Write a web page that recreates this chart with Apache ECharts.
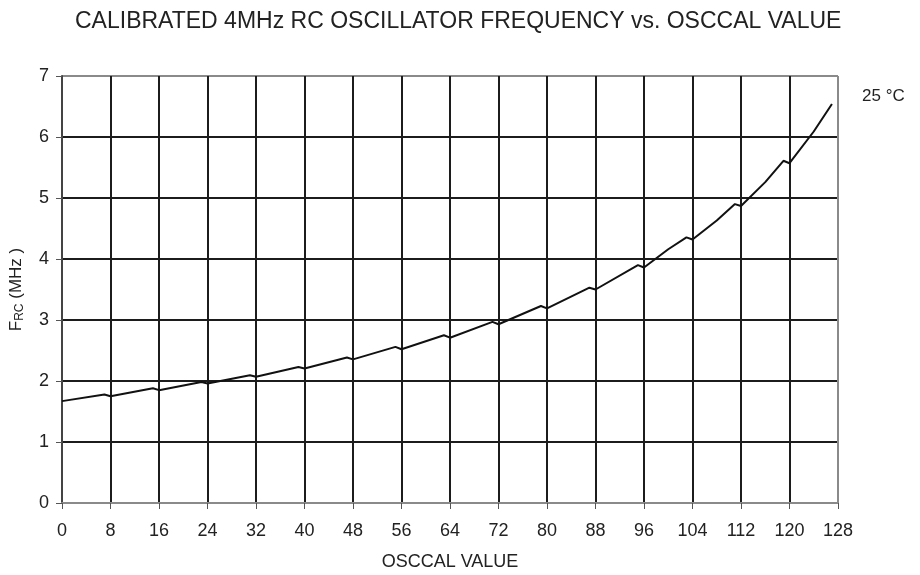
<!DOCTYPE html>
<html><head><meta charset="utf-8">
<script src="https://cdn.jsdelivr.net/npm/echarts@6/dist/echarts.min.js"></script>
<style>html,body{margin:0;padding:0;background:#fff}#c{width:920px;height:575px}</style>
</head><body><div id="c"></div>
<script>
const osccal = [0, 7, 8, 15, 16, 23, 24, 31, 32, 39, 40, 47, 48, 55, 56, 63, 64, 71, 72, 79, 80, 87, 88, 95, 96, 100, 103, 104, 108, 111, 112, 116, 119, 120, 124, 127];
const freqMHz = [1.67, 1.78, 1.75, 1.88, 1.85, 1.985, 1.96, 2.095, 2.07, 2.23, 2.205, 2.385, 2.355, 2.56, 2.52, 2.75, 2.71, 2.97, 2.93, 3.23, 3.19, 3.53, 3.50, 3.90, 3.86, 4.16, 4.355, 4.32, 4.63, 4.90, 4.87, 5.26, 5.61, 5.57, 6.09, 6.54];
const xTicks = [0, 8, 16, 24, 32, 40, 48, 56, 64, 72, 80, 88, 96, 104, 112, 120, 128];
const yTicks = [0, 1, 2, 3, 4, 5, 6, 7];
const titleText = 'CALIBRATED 4MHz RC OSCILLATOR FREQUENCY vs. OSCCAL VALUE';
const tempLabel = '25 °C';

const font = 'Liberation Sans, Arial, sans-serif';
const dark = '#1c1c1c', gray = '#8a8a8a';
const xColors = xTicks.map((t, i) => i === xTicks.length - 1 ? gray : dark);
const yColors = yTicks.map((t, i) => (i === 0 || i === yTicks.length - 1) ? gray : dark);

const chart = echarts.init(document.getElementById('c'), null, {renderer: 'canvas'});
chart.setOption({
  animation: false,
  backgroundColor: '#fff',
  title: {
    text: titleText, left: 70, top: 5,
    textStyle: {fontFamily: font, fontSize: 23, fontWeight: 'normal', color: '#222'}
  },
  grid: {left: 62, right: 82, top: 76, bottom: 72, outerBoundsMode: 'none', containLabel: false},
  xAxis: {
    type: 'value', min: xTicks[0], max: xTicks[xTicks.length - 1], interval: 8,
    name: 'OSCCAL VALUE', nameLocation: 'middle', nameGap: 50,
    nameTextStyle: {fontFamily: font, fontSize: 18, color: '#222'},
    axisLine: {show: true, lineStyle: {color: gray, width: 2}},
    axisTick: {show: true, inside: false, length: 6, lineStyle: {color: '#555', width: 1}},
    axisLabel: {fontFamily: font, fontSize: 18, color: '#222', margin: 19},
    splitLine: {show: true, lineStyle: {color: xColors, width: 2}}
  },
  yAxis: {
    type: 'value', min: yTicks[0], max: yTicks[yTicks.length - 1], interval: 1,
    name: '{f|F}{s|RC}{f| (MHz )}', nameLocation: 'middle', nameGap: 36, nameRotate: 90,
    nameTextStyle: {rich: {
      f: {fontFamily: font, fontSize: 17, color: '#222'},
      s: {fontFamily: font, fontSize: 12, color: '#222', verticalAlign: 'bottom', padding: [7, 0, 0, 0]}
    }},
    axisLine: {show: true, lineStyle: {color: '#444', width: 2}},
    axisTick: {show: true, length: 6, lineStyle: {color: '#555', width: 1}},
    axisLabel: {fontFamily: font, fontSize: 18, color: '#222', margin: 13},
    splitLine: {show: true, lineStyle: {color: yColors, width: 2}}
  },
  graphic: [{
    type: 'text', left: 862, top: 88,
    style: {text: tempLabel, fontFamily: font, fontSize: 17, fill: '#222'}
  }],
  series: [{
    type: 'line',
    data: osccal.map((x, i) => [x, freqMHz[i]]),
    showSymbol: false, symbol: 'none',
    lineStyle: {color: '#111', width: 2},
    z: 5
  }]
});
</script></body></html>
